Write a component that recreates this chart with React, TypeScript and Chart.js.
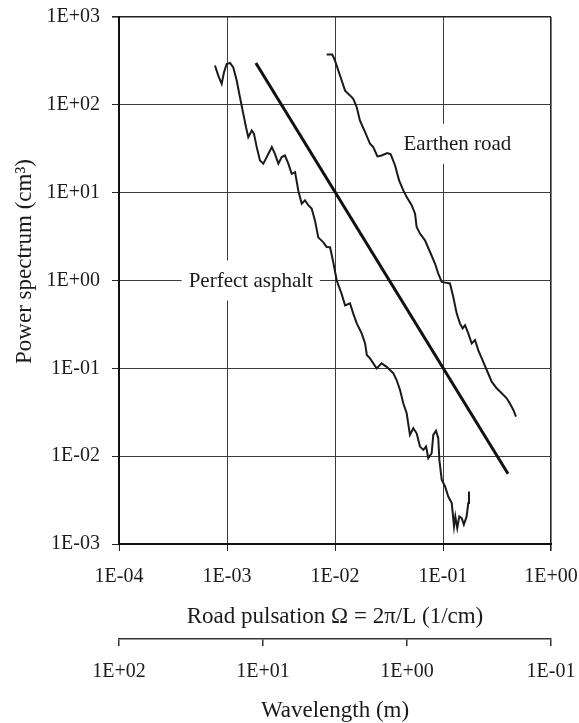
import React, { useEffect, useRef } from 'react';
import { Chart, registerables } from 'chart.js';

Chart.register(...registerables);

const FONT = "'Liberation Serif', 'Times New Roman', Times, serif";
const INK = '#1a1a1a';

// Axis ticks
const xTicks = [1e-4, 1e-3, 1e-2, 1e-1, 1];
const xTickLabels = ['1E-04', '1E-03', '1E-02', '1E-01', '1E+00'];
const yTicks = [1e-3, 1e-2, 1e-1, 1, 10, 100, 1000];
const yTickLabels = ['1E-03', '1E-02', '1E-01', '1E+00', '1E+01', '1E+02', '1E+03'];
const wavelengthTicks = [0.1, 1, 10, 100];
const wavelengthTickLabels = ['1E-01', '1E+00', '1E+01', '1E+02'];

// Perfect asphalt spectrum
const asphaltX = [
  7.74e-4, 8.3e-4, 8.93e-4, 9.38e-4, 9.93e-4, 1.067e-3, 1.143e-3, 1.23e-3, 1.318e-3, 1.416e-3,
  1.5e-3, 1.574e-3, 1.695e-3, 1.778e-3, 1.884e-3, 2.02e-3, 2.17e-3, 2.33e-3, 2.6e-3, 2.78e-3,
  2.99e-3, 3.21e-3, 3.44e-3, 3.7e-3, 3.97e-3, 4.27e-3, 4.57e-3, 4.92e-3, 5.27e-3, 5.66e-3,
  6.08e-3, 6.53e-3, 7.0e-3, 7.8e-3, 8.37e-3, 9.0e-3, 9.64e-3, 1.038e-2, 1.153e-2, 1.24e-2,
  1.377e-2, 1.476e-2, 1.59e-2, 1.766e-2, 1.9e-2, 1.97e-2, 2.11e-2, 2.43e-2, 2.7e-2, 3.01e-2,
  3.23e-2, 3.47e-2, 3.72e-2, 4.0e-2, 4.29e-2, 4.61e-2, 4.94e-2, 5.31e-2, 5.7e-2, 6.12e-2,
  6.58e-2, 6.97e-2, 7.31e-2, 7.85e-2, 8.13e-2, 8.61e-2, 9.04e-2, 9.25e-2, 9.73e-2, 0.1045,
  0.1119, 0.1205, 0.1265, 0.13, 0.1355, 0.1416, 0.149, 0.156, 0.1655, 0.1714, 0.174,
];
const asphaltY = [
  280, 215, 173, 235, 292, 300, 267, 189, 122, 79,
  55.6, 42.8, 51, 46.8, 33, 23.3, 21.4, 25.4, 33, 27.7,
  21.4, 25.4, 26.5, 21.4, 16.4, 17.1, 10.6, 7.5, 8.2, 7.2,
  6.6, 4.8, 3.1, 2.72, 2.41, 2.39, 1.61, 1.0, 0.7, 0.52,
  0.55, 0.42, 0.325, 0.25, 0.192, 0.142, 0.13, 0.1, 0.114, 0.104,
  0.0957, 0.0877, 0.0736, 0.0567, 0.04, 0.0308, 0.0175, 0.0208, 0.0182, 0.01285,
  0.0118, 0.01285, 0.0095, 0.0108, 0.0175, 0.0194, 0.016, 0.0091, 0.0054, 0.00452,
  0.00347, 0.00292, 0.00158, 0.00206, 0.00152, 0.00206, 0.00197, 0.00166, 0.00206, 0.00292, 0.00396,
];

// Earthen road spectrum
const earthenX = [
  8.37e-3, 9.44e-3, 1.0e-2, 1.074e-2, 1.153e-2, 1.24e-2, 1.377e-2, 1.476e-2, 1.59e-2, 1.7e-2,
  1.9e-2, 2.11e-2, 2.26e-2, 2.47e-2, 2.7e-2, 3.05e-2, 3.28e-2, 3.6e-2, 3.92e-2, 4.29e-2,
  4.61e-2, 5.13e-2, 5.51e-2, 5.7e-2, 6.12e-2, 6.81e-2, 7.59e-2, 8.43e-2, 9.04e-2, 9.73e-2,
  0.108, 0.116, 0.1245, 0.134, 0.1435, 0.152, 0.16, 0.1714, 0.1845, 0.198,
  0.212, 0.228, 0.254, 0.2825, 0.314, 0.35, 0.389, 0.424, 0.448, 0.474,
];
const earthenY = [
  373, 373, 319, 245, 189, 145, 128, 117, 94, 66.3,
  48.8, 36, 33, 25.9, 26.5, 28.2, 27.3, 20.4, 13.8, 10.6,
  8.9, 7.2, 5.77, 4.07, 3.42, 2.87, 2.11, 1.56, 1.2, 0.964,
  0.94, 0.925, 0.65, 0.42, 0.325, 0.285, 0.31, 0.25, 0.192, 0.21,
  0.161, 0.131, 0.0957, 0.0705, 0.0593, 0.052, 0.0456, 0.0383, 0.0336, 0.0282,
];

// Reference straight line
const referenceX = [1.85e-3, 0.4];
const referenceY = [300, 6.3e-3];

// Curve annotations (data coordinates)
const curveLabels = ['Perfect asphalt', 'Earthen road'];
const curveLabelX = [1.66e-3, 0.136];
const curveLabelY = [1, 36];

const xTitle = 'Road pulsation \u03A9 = 2\u03C0/L (1/cm)';
const yTitle = 'Power spectrum (cm\u00B3)';
const wavelengthTitle = 'Wavelength (m)';

const toPoints = (xs: number[], ys: number[]) => xs.map((v, i) => ({ x: v, y: ys[i] }));

const annotationPlugin = {
  id: 'curveAnnotations',
  afterDatasetsDraw(chart: any) {
    const { ctx, chartArea, scales } = chart;
    const xs = scales.x;
    const ys = scales.y;
    ctx.save();
    ctx.font = `21px ${FONT}`;
    ctx.textAlign = 'center';
    ctx.textBaseline = 'middle';
    curveLabels.forEach((t, i) => {
      const px = xs.getPixelForValue(curveLabelX[i]);
      const py = ys.getPixelForValue(curveLabelY[i]);
      const w = ctx.measureText(t).width + 14;
      const h = 40;
      ctx.fillStyle = '#ffffff';
      ctx.fillRect(px - w / 2, py - h / 2, w, h);
      ctx.fillStyle = INK;
      ctx.fillText(t, px, py + 1);
    });
    ctx.restore();

    ctx.save();
    ctx.font = `23px ${FONT}`;
    ctx.textAlign = 'center';
    ctx.textBaseline = 'middle';
    ctx.fillStyle = INK;
    ctx.translate(25, (chartArea.top + chartArea.bottom) / 2 - 19);
    ctx.rotate(-Math.PI / 2);
    ctx.fillText(yTitle, 0, 0);
    ctx.restore();
  },
};

const edgeWidth = (edges: number[]) => (c: any) =>
  c.tick && edges.includes(c.tick.value) ? 1.6 : 1;
const edgeColor = (edges: number[]) => (c: any) =>
  c.tick && edges.includes(c.tick.value) ? '#222' : '#3c3c3c';

const fitHorizontal = (h: number) => (s: any) => {
  s.height = h;
  s.paddingLeft = 0;
  s.paddingRight = 0;
};

export default function App() {
  const ref = useRef<HTMLCanvasElement | null>(null);

  useEffect(() => {
    if (!ref.current) return;
    Chart.defaults.font.family = FONT;
    const chart = new Chart(ref.current, {
      type: 'line',
      data: {
        datasets: [
          {
            label: 'Perfect asphalt',
            data: toPoints(asphaltX, asphaltY),
            borderColor: INK,
            borderWidth: 2,
            pointRadius: 0,
            tension: 0,
            xAxisID: 'x',
            yAxisID: 'y',
          },
          {
            label: 'Earthen road',
            data: toPoints(earthenX, earthenY),
            borderColor: INK,
            borderWidth: 2,
            pointRadius: 0,
            tension: 0,
            xAxisID: 'x',
            yAxisID: 'y',
          },
          {
            label: 'Reference',
            data: toPoints(referenceX, referenceY),
            borderColor: '#111',
            borderWidth: 3,
            pointRadius: 0,
            tension: 0,
            xAxisID: 'x',
            yAxisID: 'y',
          },
        ],
      },
      options: {
        animation: false,
        responsive: false,
        devicePixelRatio: 1,
        events: [],
        layout: { padding: { top: 17, right: 28, left: 0, bottom: 0 } },
        plugins: {
          legend: { display: false },
          tooltip: { enabled: false },
        },
        scales: {
          x: {
            type: 'logarithmic',
            position: 'bottom',
            weight: 0,
            min: 1e-4,
            max: 1,
            afterBuildTicks: (s: any) => {
              s.ticks = xTicks.map((v) => ({ value: v }));
            },
            afterFit: fitHorizontal(95),
            ticks: {
              autoSkip: false,
              maxRotation: 0,
              padding: 14,
              color: INK,
              font: { family: FONT, size: 20 },
              callback: (v: any) => xTickLabels[xTicks.indexOf(Number(v))] ?? '',
            },
            grid: {
              color: edgeColor([1]),
              lineWidth: edgeWidth([1]),
              tickLength: 7,
              tickColor: '#222',
            },
            border: { display: true, color: '#111', width: 2 },
            title: {
              display: true,
              text: xTitle,
              color: INK,
              font: { family: FONT, size: 23 },
              padding: { top: 0, bottom: 8 },
            },
          },
          x2: {
            type: 'logarithmic',
            position: 'bottom',
            weight: 1,
            reverse: true,
            min: 0.1,
            max: 100,
            afterBuildTicks: (s: any) => {
              s.ticks = wavelengthTicks.map((v) => ({ value: v }));
            },
            afterFit: fitHorizontal(84),
            ticks: {
              autoSkip: false,
              maxRotation: 0,
              padding: 14,
              color: INK,
              font: { family: FONT, size: 20 },
              callback: (v: any) => wavelengthTickLabels[wavelengthTicks.indexOf(Number(v))] ?? '',
            },
            grid: {
              drawOnChartArea: false,
              tickLength: 7,
              tickColor: '#333',
              lineWidth: 1.5,
            },
            border: { display: true, color: '#333', width: 1.5 },
            title: {
              display: true,
              text: wavelengthTitle,
              color: INK,
              font: { family: FONT, size: 23 },
              padding: { top: 0, bottom: -2 },
            },
          },
          y: {
            type: 'logarithmic',
            position: 'left',
            min: 1e-3,
            max: 1e3,
            afterBuildTicks: (s: any) => {
              s.ticks = yTicks.map((v) => ({ value: v }));
            },
            afterFit: (s: any) => {
              s.width = 119;
              s.paddingTop = 0;
              s.paddingBottom = 0;
            },
            ticks: {
              autoSkip: false,
              padding: 12,
              color: INK,
              font: { family: FONT, size: 20 },
              callback: (v: any) => yTickLabels[yTicks.indexOf(Number(v))] ?? '',
            },
            grid: {
              color: edgeColor([1000]),
              lineWidth: edgeWidth([1000]),
              tickLength: 7,
              tickColor: '#222',
            },
            border: { display: true, color: '#111', width: 2 },
          },
        },
      },
      plugins: [annotationPlugin],
    } as any);
    return () => chart.destroy();
  }, []);

  return (
    <div style={{ position: 'absolute', left: 0, top: 0, width: 579, height: 723, background: '#fff' }}>
      <canvas ref={ref} width={579} height={723} />
    </div>
  );
}
